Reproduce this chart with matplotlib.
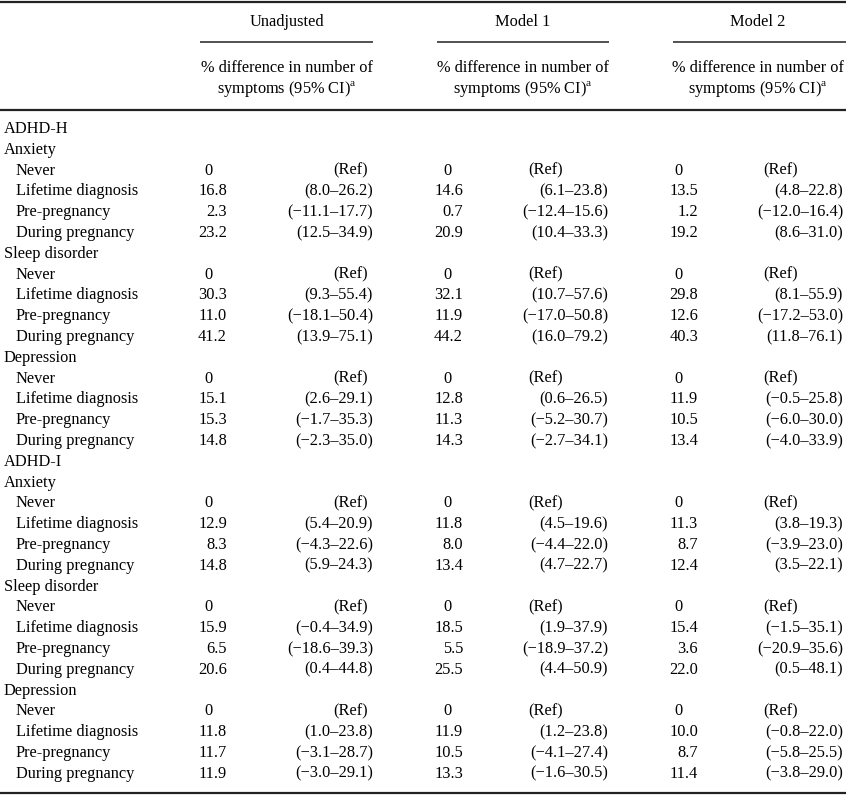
import matplotlib
matplotlib.use("Agg")
import matplotlib.pyplot as plt

plt.rcParams['font.family'] = ['Liberation Serif', 'DejaVu Serif']
plt.rcParams['mathtext.fontset'] = 'custom'
plt.rcParams['mathtext.rm'] = 'Liberation Serif'

# ---- data ----
groups = ["ADHD-H", "ADHD-I"]
exposures = ["Anxiety", "Sleep disorder", "Depression"]
timings = ["Never", "Lifetime diagnosis", "Pre-pregnancy", "During pregnancy"]
models = ["Unadjusted", "Model 1", "Model 2"]
subheader = ["% difference in number of", "symptoms (95% CI)"]

# values for non-reference timings, order: group > exposure > (Lifetime, Pre, During)
est_unadj = [16.8, 2.3, 23.2, 30.3, 11.0, 41.2, 15.1, 15.3, 14.8,
             12.9, 8.3, 14.8, 15.9, 6.5, 20.6, 11.8, 11.7, 11.9]
lo_unadj = [8.0, -11.1, 12.5, 9.3, -18.1, 13.9, 2.6, -1.7, -2.3,
            5.4, -4.3, 5.9, -0.4, -18.6, 0.4, 1.0, -3.1, -3.0]
hi_unadj = [26.2, 17.7, 34.9, 55.4, 50.4, 75.1, 29.1, 35.3, 35.0,
            20.9, 22.6, 24.3, 34.9, 39.3, 44.8, 23.8, 28.7, 29.1]

est_m1 = [14.6, 0.7, 20.9, 32.1, 11.9, 44.2, 12.8, 11.3, 14.3,
          11.8, 8.0, 13.4, 18.5, 5.5, 25.5, 11.9, 10.5, 13.3]
lo_m1 = [6.1, -12.4, 10.4, 10.7, -17.0, 16.0, 0.6, -5.2, -2.7,
         4.5, -4.4, 4.7, 1.9, -18.9, 4.4, 1.2, -4.1, -1.6]
hi_m1 = [23.8, 15.6, 33.3, 57.6, 50.8, 79.2, 26.5, 30.7, 34.1,
         19.6, 22.0, 22.7, 37.9, 37.2, 50.9, 23.8, 27.4, 30.5]

est_m2 = [13.5, 1.2, 19.2, 29.8, 12.6, 40.3, 11.9, 10.5, 13.4,
          11.3, 8.7, 12.4, 15.4, 3.6, 22.0, 10.0, 8.7, 11.4]
lo_m2 = [4.8, -12.0, 8.6, 8.1, -17.2, 11.8, -0.5, -6.0, -4.0,
         3.8, -3.9, 3.5, -1.5, -20.9, 0.5, -0.8, -5.8, -3.8]
hi_m2 = [22.8, 16.4, 31.0, 55.9, 53.0, 76.1, 25.8, 30.0, 33.9,
         19.3, 23.0, 22.1, 35.1, 35.6, 48.1, 22.0, 25.5, 29.0]

model_data = [(est_unadj, lo_unadj, hi_unadj),
              (est_m1, lo_m1, hi_m1),
              (est_m2, lo_m2, hi_m2)]

# ---- layout (pixel coordinates) ----
W, H = 846, 796
fig = plt.figure(figsize=(W / 100, H / 100), dpi=100)
ax = fig.add_axes([0, 0, 1, 1])
ax.set_xlim(0, W)
ax.set_ylim(H, 0)
ax.axis('off')

FS = 11.8
col_num_right = [227, 463, 698]
col_zero_right = [213, 452, 683]
col_ci_right = [373, 608, 843]
col_ref_left = [333, 528, 763]
hdr_center = [287, 523, 758]
hdr_line = [(200, 373), (437, 609), (673, 846)]

def fmt(v):
    s = f"{v:.1f}"
    return s.replace("-", "\u2212")

lc = '#222222'
ax.plot([0, W], [1.5, 1.5], color=lc, lw=1.6, solid_capstyle='butt')
ax.plot([0, W], [110, 110], color=lc, lw=1.6, solid_capstyle='butt')
ax.plot([0, W], [793, 793], color=lc, lw=1.6, solid_capstyle='butt')

for m in range(3):
    ax.text(hdr_center[m], 22, models[m], ha='center', va='center', fontsize=FS)
    ax.plot(hdr_line[m], [42, 42], color=lc, lw=1.1, solid_capstyle='butt')
    ax.text(hdr_center[m], 68, subheader[0], ha='center', va='center', fontsize=FS)
    ax.text(hdr_center[m], 89, subheader[1] + r"$^{\mathrm{a}}$", ha='center', va='center', fontsize=FS)

y0 = 129
dy = 20.8
row = 0
k = 0
for g in groups:
    ax.text(4, y0 + row * dy, g, ha='left', va='center', fontsize=FS)
    row += 1
    for e in exposures:
        ax.text(4, y0 + row * dy, e, ha='left', va='center', fontsize=FS)
        row += 1
        for t_i, t in enumerate(timings):
            y = y0 + row * dy
            ax.text(16, y, t, ha='left', va='center', fontsize=FS)
            for m in range(3):
                if t_i == 0:
                    ax.text(col_zero_right[m], y, "0", ha='right', va='center', fontsize=FS)
                    ax.text(col_ref_left[m], y, "(Ref)", ha='left', va='center', fontsize=FS)
                else:
                    est, lo, hi = model_data[m]
                    ax.text(col_num_right[m], y, fmt(est[k]), ha='right', va='center', fontsize=FS)
                    ax.text(col_ci_right[m], y, f"({fmt(lo[k])}\u2013{fmt(hi[k])})",
                            ha='right', va='center', fontsize=FS)
            if t_i > 0:
                k += 1
            row += 1

fig.savefig("out.png", dpi=100)
